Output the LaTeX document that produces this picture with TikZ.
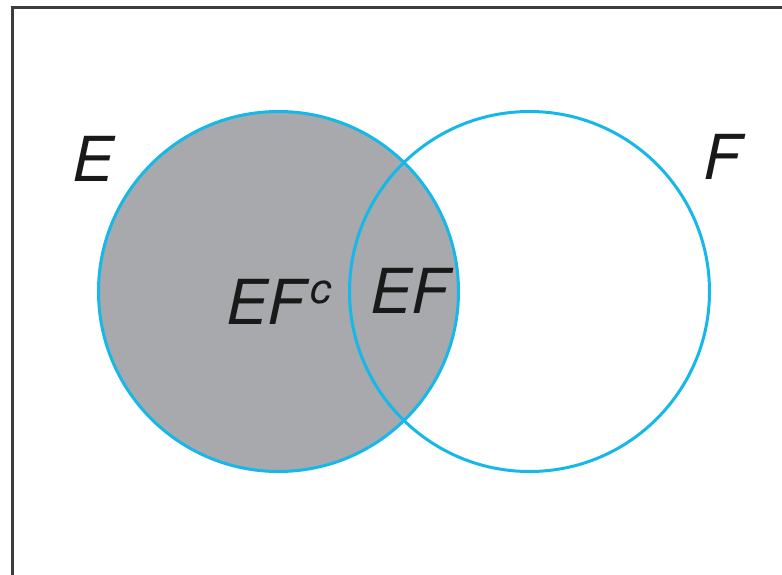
\documentclass[tikz,border=0pt]{standalone}
\usepackage{fontspec}
\setmainfont{TeX Gyre Heros}
\definecolor{setcyan}{RGB}{22,183,233}
\definecolor{setgray}{RGB}{167,169,172}
\definecolor{framegray}{RGB}{60,60,60}
\begin{document}
\begin{tikzpicture}[x=1pt,y=-1pt,
  setcircle/.style={circle,draw=setcyan,line width=3pt,inner sep=0pt,minimum size=360pt},
  setlabel/.style={font=\fontsize{62}{62}\selectfont\itshape,text=black!90,inner sep=0pt,anchor=base}]
\useasboundingbox (0,0) rectangle (782,574);
\clip (0,0) rectangle (782,574);
\fill[white] (0,0) rectangle (782,574);
\draw[framegray,line width=3pt] (12.5,7.5) rectangle (800,600);
\node[setcircle,fill=setgray] (E) at (278.5,291.5) {};
\node[setcircle] (F) at (529.5,291.5) {};
\node[setlabel] (lE) at (93,181) {E};
\node[setlabel] (lF) at (722,179) {F};
\node[setlabel] (lEF) at (410,313) {EF};
\node[setlabel,anchor=base west] (lEFc) at (226,324) {EF\kern5pt\raisebox{21pt}{\fontsize{42}{42}\selectfont c}};
\end{tikzpicture}
\end{document}
